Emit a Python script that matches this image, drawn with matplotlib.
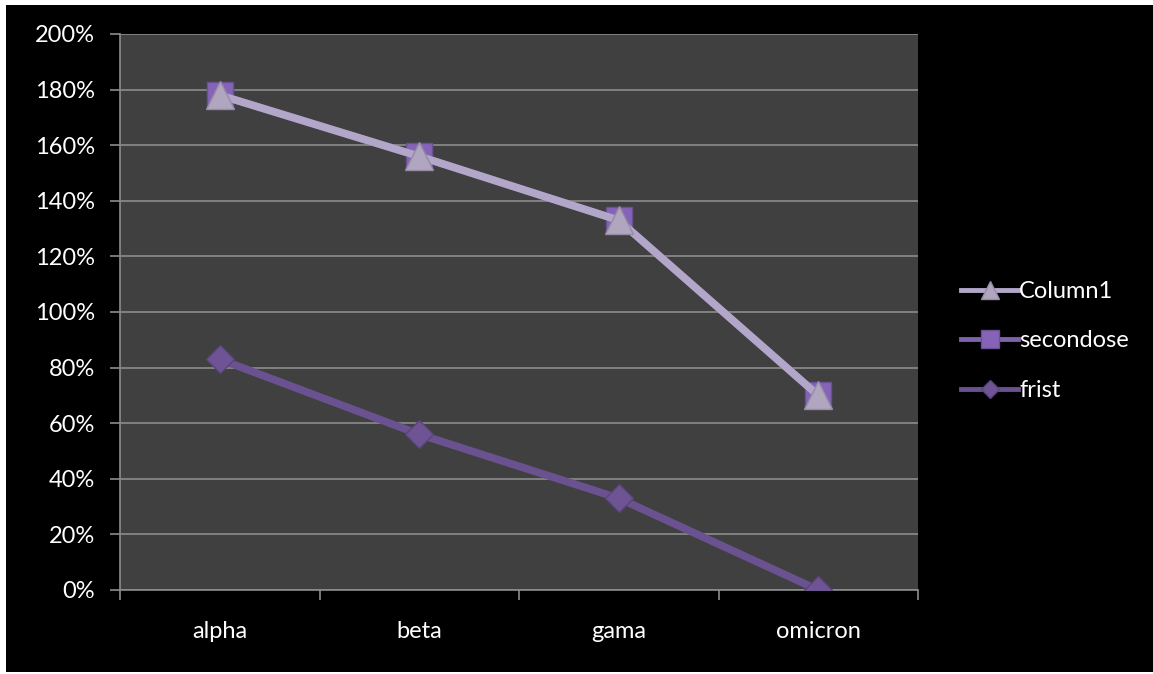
import matplotlib.pyplot as plt
from matplotlib.patches import Rectangle
from matplotlib.ticker import FuncFormatter, MultipleLocator

categories = ['alpha', 'beta', 'gama', 'omicron']
column1 = [178, 156, 133, 70]
secondose = [178, 156, 133, 70]
frist = [83, 56, 33, 0]

plt.rcParams['font.family'] = ['Lato', 'DejaVu Sans']

fig = plt.figure(figsize=(11.53, 6.74), dpi=100, facecolor='white')
# black chart area inside a thin white margin
fig.patches.append(Rectangle((6 / 1153, 2 / 674), 1 - 6 / 1153, 1 - 7 / 674,
                             transform=fig.transFigure, facecolor='black',
                             edgecolor='none', zorder=-10))

ax = fig.add_axes([120 / 1153, 1 - 590 / 674, 798 / 1153, 556 / 674])
ax.set_facecolor('#404040')

x = range(len(categories))
ax.plot(x, frist, color='#6a5291', lw=5.5, marker='D', ms=14,
        mfc='#6e5494', mec='#5a4479', mew=1, label='frist', zorder=3)
ax.plot(x, secondose, color='#7d62ad', lw=5.5, marker='s', ms=19,
        mfc='#8564b8', mec='#6c5096', mew=1, label='secondose', zorder=3)
ax.plot(x, column1, color='#b3a7c9', lw=5.5, marker='^', ms=20,
        mfc='#b0a6bf', mec='#968ca6', mew=1, label='Column1', zorder=4)

ax.set_xlim(-0.5, 3.5)
ax.set_ylim(0, 200)
ax.yaxis.set_major_locator(MultipleLocator(20))
ax.yaxis.set_major_formatter(FuncFormatter(lambda v, p: f'{v:.0f}%'))
ax.set_xticks(list(x))
ax.set_xticklabels(categories)
ax.set_xticks([-0.5, 0.5, 1.5, 2.5, 3.5], minor=True)
ax.tick_params(axis='x', which='major', length=0, pad=22, labelsize=17,
               labelcolor='white')
ax.tick_params(axis='x', which='minor', length=7, color='#8c8c8c', width=1.2)
ax.tick_params(axis='y', length=7, color='#8c8c8c', width=1.2, pad=11,
               labelsize=17, labelcolor='white')

ax.grid(axis='y', color='#8c8c8c', lw=1.2)
ax.set_axisbelow(True)
for side in ['top', 'right']:
    ax.spines[side].set_visible(False)
for side in ['left', 'bottom']:
    ax.spines[side].set_color('#8c8c8c')
    ax.spines[side].set_linewidth(1.2)

handles, labels = ax.get_legend_handles_labels()
leg = fig.legend(handles[::-1], labels[::-1], loc='center left',
                 bbox_to_anchor=(940 / 1153, 1 - 341 / 674), frameon=False,
                 fontsize=17, labelcolor='white', handlelength=2.4,
                 handletextpad=0.05, labelspacing=1.2, markerscale=0.65)
for line in leg.get_lines():
    line.set_linewidth(3.5)

fig.savefig('out.png', dpi=100, facecolor='white')
